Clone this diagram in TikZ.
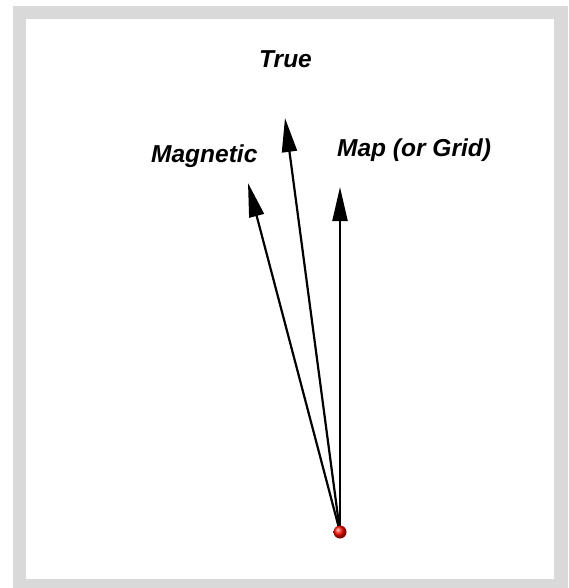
\documentclass[tikz,border=0pt]{standalone}
\usepackage{fontspec}
\setmainfont{Liberation Sans}
\usetikzlibrary{arrows.meta}
\begin{document}
\begin{tikzpicture}[x=1pt,y=-1pt,
  lbl/.style={inner sep=0pt,anchor=base west,font=\fontsize{24.5}{28}\selectfont\bfseries\itshape},
  dir/.style={line width=2.2pt,-{Triangle[length=34pt,width=15pt]}}]
\useasboundingbox (0,0) rectangle (568,588);
\fill[white] (0,0) rectangle (568,588);
\fill[gray!30] (13,6) rectangle (568,588);
\fill[white] (26,19) rectangle (554,579);
\coordinate (o) at (340,532);
\coordinate (mag) at (248,183);
\coordinate (tru) at (285,118);
\coordinate (map) at (340,187);
\draw[dir] (o) -- (mag);
\draw[dir] (o) -- (tru);
\draw[dir] (o) -- (map);
\shade[ball color=red!90!orange] (o) circle (6.5);
\node[lbl] (tl) at (259,68) {True};
\node[lbl] (ml) at (151,162) {Magnetic};
\node[lbl] (gl) at (337,157) {Map (or Grid)};
\end{tikzpicture}
\end{document}
